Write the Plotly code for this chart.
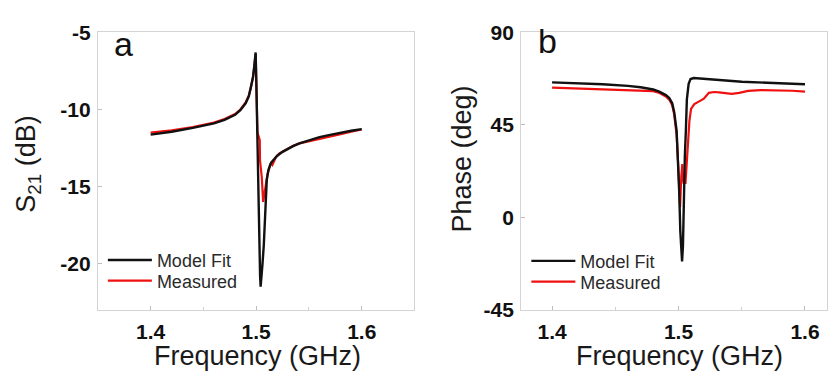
import plotly.graph_objects as go

# ---------------- data ----------------
# Panel a: S21 (dB)
fit_a_x = [1.400, 1.420, 1.440, 1.450, 1.460, 1.470, 1.480, 1.485, 1.490, 1.493, 1.495, 1.497,
           1.498, 1.499, 1.4995, 1.5002, 1.5010, 1.5020, 1.5030, 1.5037, 1.5042, 1.5050, 1.5060,
           1.5072, 1.5082, 1.5090, 1.5100, 1.5115, 1.5135, 1.5155, 1.520, 1.525, 1.530, 1.535,
           1.541, 1.550, 1.560, 1.570, 1.580, 1.590, 1.600]
fit_a_y = [-11.63, -11.45, -11.20, -11.05, -10.90, -10.67, -10.35, -10.05, -9.60, -9.15, -8.60, -7.90,
           -7.30, -6.60, -6.30, -8.50, -12.0, -15.5, -19.0, -20.8, -21.5, -21.0, -20.0,
           -18.8, -17.0, -15.6, -14.6, -13.95, -13.55, -13.35, -13.0, -12.75, -12.55, -12.38,
           -12.2, -12.0, -11.8, -11.65, -11.5, -11.38, -11.28]

meas_a_x = [1.400, 1.420, 1.440, 1.450, 1.460, 1.470, 1.480, 1.485, 1.490, 1.493, 1.495, 1.497,
            1.498, 1.499, 1.4995, 1.5002, 1.5012, 1.5030, 1.5034, 1.5036, 1.5053, 1.5066, 1.5080,
            1.5095, 1.5107, 1.5125, 1.5140, 1.5153, 1.5175, 1.5186, 1.522, 1.528, 1.535, 1.541,
            1.550, 1.560, 1.570, 1.580, 1.590, 1.600]
meas_a_y = [-11.50, -11.35, -11.15, -11.02, -10.85, -10.62, -10.30, -10.00, -9.55, -9.10, -8.60, -7.90,
            -7.30, -6.60, -6.40, -8.50, -11.5, -11.9, -12.0, -13.3, -14.4, -16.0, -15.3,
            -14.6, -14.2, -13.8, -13.5, -13.6, -13.3, -13.1, -12.85, -12.6, -12.35, -12.2,
            -12.05, -11.9, -11.75, -11.6, -11.45, -11.3]

# Panel b: Phase (deg)
fit_b_x = [1.400, 1.420, 1.440, 1.460, 1.470, 1.480, 1.4848, 1.490, 1.4927, 1.495, 1.4966, 1.4985,
           1.4998, 1.5006, 1.5014, 1.5020, 1.5028, 1.5035, 1.5042, 1.5050, 1.5058, 1.5066, 1.5080,
           1.5095, 1.5120, 1.5160, 1.5250, 1.5320, 1.550, 1.570, 1.585, 1.600]
fit_b_y = [65.7, 65.3, 64.8, 64.0, 63.3, 62.2, 61.2, 59.5, 58.1, 55.5, 51.2, 42.1,
           26.9, 11.6, -6.7, -16.0, -21.5, -14.0, 11.7, 30.0, 42.1, 57.4, 65.0,
           67.3, 67.8, 67.6, 67.0, 66.6, 66.0, 65.5, 65.1, 64.8]

meas_b_x = [1.400, 1.420, 1.440, 1.460, 1.470, 1.480, 1.485, 1.490, 1.493, 1.495, 1.4966, 1.4985,
            1.4998, 1.5006, 1.5012, 1.5022, 1.5030, 1.5034, 1.5040, 1.5055, 1.5073, 1.5086, 1.5099,
            1.5125, 1.5160, 1.5200, 1.5240, 1.5280, 1.5320, 1.5370, 1.5420, 1.5480, 1.5550, 1.5650,
            1.5800, 1.5900, 1.600]
meas_b_y = [63.1, 62.6, 62.1, 61.9, 61.7, 61.4, 60.5, 58.8, 57.0, 54.5, 50.0, 40.0,
            25.0, 12.0, 4.9, 20.0, 25.9, 20.0, 16.8, 16.8, 34.6, 46.8, 52.8,
            55.1, 56.3, 57.7, 60.6, 61.0, 60.8, 60.5, 60.1, 60.6, 61.5, 61.9,
            61.9, 61.6, 61.2]

x_ticks = [1.4, 1.5, 1.6]
x_ticktext = ["1.4", "1.5", "1.6"]
ya_ticks = [-5, -10, -15, -20]
ya_ticktext = ["-5", "-10", "-15", "-20"]
yb_ticks = [90, 45, 0, -45]
yb_ticktext = ["90", "45", "0", "-45"]

# ---------------- figure ----------------
W, H = 828, 385
FONT = "Arial, Liberation Sans, sans-serif"
BLACK = "#111111"
RED = "#f01010"
BOX = "#d4d4d4"

fig = go.Figure()

def add_pair(xf, yf, xm, ym, xa, ya, lg_fit, lg_meas):
    fig.add_trace(go.Scatter(x=xm, y=ym, mode="lines", name="Measured",
                             line=dict(color=RED, width=2.2), xaxis=xa, yaxis=ya,
                             legend=lg_meas, showlegend=True))
    fig.add_trace(go.Scatter(x=xf, y=yf, mode="lines", name="Model Fit",
                             line=dict(color=BLACK, width=2.4), xaxis=xa, yaxis=ya,
                             legend=lg_fit, showlegend=True))

add_pair(fit_a_x, fit_a_y, meas_a_x, meas_a_y, "x", "y", "legend", "legend2")
add_pair(fit_b_x, fit_b_y, meas_b_x, meas_b_y, "x2", "y2", "legend3", "legend4")

ytop, ybot = 21.7, 316.7
ydom = [1 - ybot / H, 1 - ytop / H]
TICKFONT = dict(family=FONT, size=21, color="#111")

def bold(lst):
    return ["<b>%s</b>" % t for t in lst]

def xaxis(dom, rng, anchor):
    return dict(domain=dom, range=rng, anchor=anchor, tickvals=x_ticks, ticktext=bold(x_ticktext),
                showline=True, mirror=True, linecolor=BOX, linewidth=1,
                ticks="inside", ticklen=4, tickcolor="#bdbdbd", tickwidth=1,
                minor=dict(ticks="inside", ticklen=3, tickcolor="#cfcfcf", dtick=0.05, tick0=1.4),
                showgrid=False, zeroline=False, tickfont=TICKFONT, ticklabelstandoff=3)

def yaxis(dom, rng, anchor, tv, tt):
    return dict(domain=dom, range=rng, anchor=anchor, tickvals=tv, ticktext=bold(tt),
                showline=True, mirror=True, linecolor=BOX, linewidth=1,
                ticks="inside", ticklen=4, tickcolor="#bdbdbd", tickwidth=1,
                showgrid=False, zeroline=False, tickfont=TICKFONT, ticklabelstandoff=2)

leg_common = dict(bgcolor="rgba(0,0,0,0)", borderwidth=0, xanchor="left", yanchor="middle",
                  font=dict(family=FONT, size=18, color="#2a2a2a"), itemwidth=44)

fig.update_layout(
    width=W, height=H, margin=dict(l=0, r=0, t=0, b=0),
    paper_bgcolor="white", plot_bgcolor="white",
    xaxis=xaxis([98 / W, 415 / W], [1.35, 1.65], "y"),
    yaxis=yaxis(ydom, [-23, -5], "x", ya_ticks, ya_ticktext),
    xaxis2=xaxis([521.7 / W, 1.0], [1.3755, 1.6174], "y2"),
    yaxis2=yaxis(ydom, [-45, 90], "x2", yb_ticks, yb_ticktext),
    legend=dict(x=103 / W, y=1 - 264 / H, **leg_common),
    legend2=dict(x=103 / W, y=1 - 286 / H, **leg_common),
    legend3=dict(x=527 / W, y=1 - 265 / H, **leg_common),
    legend4=dict(x=527 / W, y=1 - 287 / H, **leg_common),
    showlegend=True,
)

ann_font = dict(family=FONT, size=27, color="#1a1a1a")
annotations = [
    dict(text="Frequency (GHz)", x=257.5 / W, y=1 - 366 / H, xref="paper", yref="paper",
         showarrow=False, xanchor="center", yanchor="middle", font=ann_font),
    dict(text="Frequency (GHz)", x=680 / W, y=1 - 366 / H, xref="paper", yref="paper",
         showarrow=False, xanchor="center", yanchor="middle", font=ann_font),
    dict(text="S<sub>21</sub> (dB)", x=28 / W, y=1 - 161.5 / H, xref="paper", yref="paper",
         showarrow=False, xanchor="center", yanchor="middle", textangle=-90, font=ann_font),
    dict(text="Phase (deg)", x=463 / W, y=1 - 156.5 / H, xref="paper", yref="paper",
         showarrow=False, xanchor="center", yanchor="middle", textangle=-90, font=ann_font),
    dict(text="a", x=124 / W, y=1 - 34 / H, xref="paper", yref="paper",
         showarrow=False, xanchor="center", yanchor="middle",
         font=dict(family=FONT, size=34, color="#111")),
    dict(text="b", x=548.5 / W, y=1 - 31 / H, xref="paper", yref="paper",
         showarrow=False, xanchor="center", yanchor="middle",
         font=dict(family=FONT, size=34, color="#111")),
]
fig.update_layout(annotations=annotations)

fig.write_html("out.html")
